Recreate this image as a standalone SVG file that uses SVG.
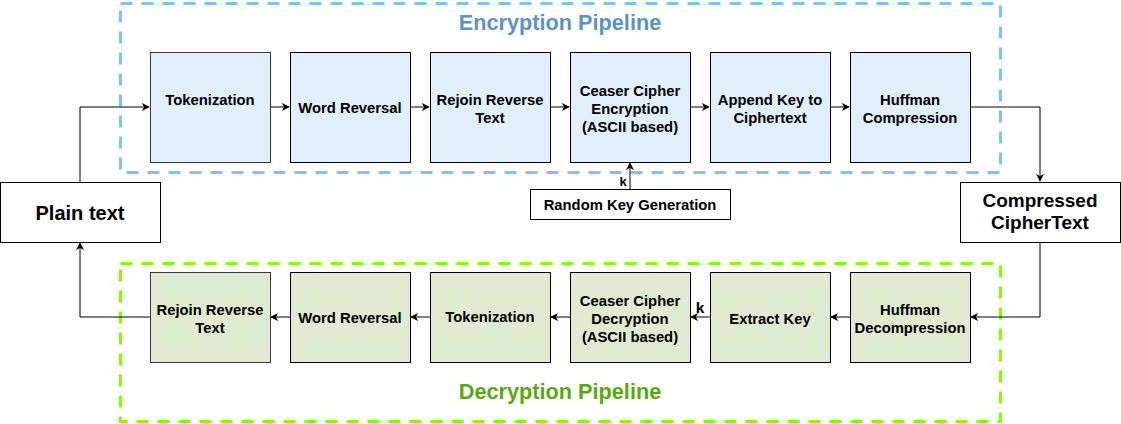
<svg xmlns="http://www.w3.org/2000/svg" width="1121" height="424" viewBox="0 0 1121 424">
<defs>
<style>
.t{font-family:"Liberation Sans",Arial,sans-serif;font-weight:bold;font-size:14.8px;fill:#000;text-anchor:middle}
.enc{fill:#e1eefd;stroke:#000;stroke-width:1}
.dec{fill:#e0ead1;stroke:#000;stroke-width:1}
.wb{fill:#fff;stroke:#000;stroke-width:1}
.c{fill:none;stroke:#000;stroke-width:1}
</style>
<marker id="a" viewBox="0 0 10 10" refX="9" refY="5" markerWidth="8" markerHeight="8" markerUnits="userSpaceOnUse" orient="auto">
<path d="M0,0 L10,5 L0,10 L3,5 Z" fill="#000"/>
</marker>
</defs>
<rect width="1121" height="424" fill="#fff"/>
<g id="encryption-pipeline">
<rect x="120.5" y="3.5" width="880" height="169" fill="none" stroke="#7ec1ff" stroke-width="3" stroke-dasharray="12 9"/>
<text x="560" y="30" class="t" style="font-size:21.7px;fill:#5b93c6">Encryption Pipeline</text>
</g>
<g id="decryption-pipeline">
<rect x="120.5" y="263.5" width="880" height="158" fill="none" stroke="#80ff00" stroke-width="3" stroke-dasharray="12 9"/>
<text x="560" y="399" class="t" style="font-size:21.7px;fill:#5aa80f">Decryption Pipeline</text>
</g>
<g id="connectors">
<path class="c" d="M80,182 V107 H149" marker-end="url(#a)"/>
<path class="c" d="M270,107 H289" marker-end="url(#a)"/>
<path class="c" d="M410,107 H429" marker-end="url(#a)"/>
<path class="c" d="M550,107 H569" marker-end="url(#a)"/>
<path class="c" d="M690,107 H709" marker-end="url(#a)"/>
<path class="c" d="M830,107 H849" marker-end="url(#a)"/>
<path class="c" d="M970,107 H1040 V181" marker-end="url(#a)"/>
<path class="c" d="M630,189 V163" marker-end="url(#a)"/>
<text x="623" y="186" class="t" style="font-size:13px">k</text>
<path class="c" d="M1040,242 V317 H971" marker-end="url(#a)"/>
<path class="c" d="M850,317 H831" marker-end="url(#a)"/>
<path class="c" d="M710,317 H691" marker-end="url(#a)"/>
<text x="700" y="313" class="t" style="font-size:15.5px">k</text>
<path class="c" d="M570,317 H551" marker-end="url(#a)"/>
<path class="c" d="M430,317 H411" marker-end="url(#a)"/>
<path class="c" d="M290,317 H271" marker-end="url(#a)"/>
<path class="c" d="M150,317 H80 V243" marker-end="url(#a)"/>
</g>
<g id="plain-text">
<rect class="wb" x="0.5" y="182.5" width="160" height="60"/>
<text x="80" y="220" class="t" style="font-size:20px">Plain text</text>
</g>
<g id="compressed-ciphertext">
<rect class="wb" x="960.5" y="182.5" width="160" height="60"/>
<text x="1040" y="207" class="t" style="font-size:19px">Compressed</text>
<text x="1040" y="229" class="t" style="font-size:19px">CipherText</text>
</g>
<g id="random-key">
<rect class="wb" x="530.5" y="189.5" width="200" height="30"/>
<text x="630" y="209.5" class="t">Random Key Generation</text>
</g>
<g id="enc-tokenization">
<rect class="enc" x="150.5" y="52.5" width="120" height="110" style="stroke:#36393d"/>
<text x="210" y="104.5" class="t">Tokenization</text>
</g>
<g id="enc-word-reversal">
<rect class="enc" x="290.5" y="52.5" width="120" height="110"/>
<text x="350" y="112.5" class="t">Word Reversal</text>
</g>
<g id="enc-rejoin">
<rect class="enc" x="430.5" y="52.5" width="120" height="110"/>
<text x="490" y="104.5" class="t">Rejoin Reverse</text>
<text x="490" y="122.5" class="t">Text</text>
</g>
<g id="enc-caesar">
<rect class="enc" x="570.5" y="52.5" width="120" height="110"/>
<text x="630" y="95.5" class="t">Ceaser Cipher</text>
<text x="630" y="113.5" class="t">Encryption</text>
<text x="630" y="131.5" class="t">(ASCII based)</text>
</g>
<g id="enc-append-key">
<rect class="enc" x="710.5" y="52.5" width="120" height="110"/>
<text x="770" y="104.5" class="t">Append Key to</text>
<text x="770" y="122.5" class="t">Ciphertext</text>
</g>
<g id="enc-huffman">
<rect class="enc" x="850.5" y="52.5" width="120" height="110"/>
<text x="910" y="104.5" class="t">Huffman</text>
<text x="910" y="122.5" class="t">Compression</text>
</g>
<g id="dec-rejoin">
<rect class="dec" x="150.5" y="272.5" width="120" height="90" style="stroke:#36393d"/>
<text x="210" y="314.5" class="t">Rejoin Reverse</text>
<text x="210" y="332.5" class="t">Text</text>
</g>
<g id="dec-word-reversal">
<rect class="dec" x="290.5" y="272.5" width="120" height="90"/>
<text x="350" y="322.5" class="t">Word Reversal</text>
</g>
<g id="dec-tokenization">
<rect class="dec" x="430.5" y="272.5" width="120" height="90"/>
<text x="490" y="321.5" class="t">Tokenization</text>
</g>
<g id="dec-caesar">
<rect class="dec" x="570.5" y="272.5" width="120" height="90"/>
<text x="630" y="305.5" class="t">Ceaser Cipher</text>
<text x="630" y="323.5" class="t">Decryption</text>
<text x="630" y="341.5" class="t">(ASCII based)</text>
</g>
<g id="dec-extract-key">
<rect class="dec" x="710.5" y="272.5" width="120" height="90"/>
<text x="770" y="323.5" class="t">Extract Key</text>
</g>
<g id="dec-huffman">
<rect class="dec" x="850.5" y="272.5" width="120" height="90"/>
<text x="910" y="314.5" class="t">Huffman</text>
<text x="910" y="332.5" class="t">Decompression</text>
</g>
</svg>
